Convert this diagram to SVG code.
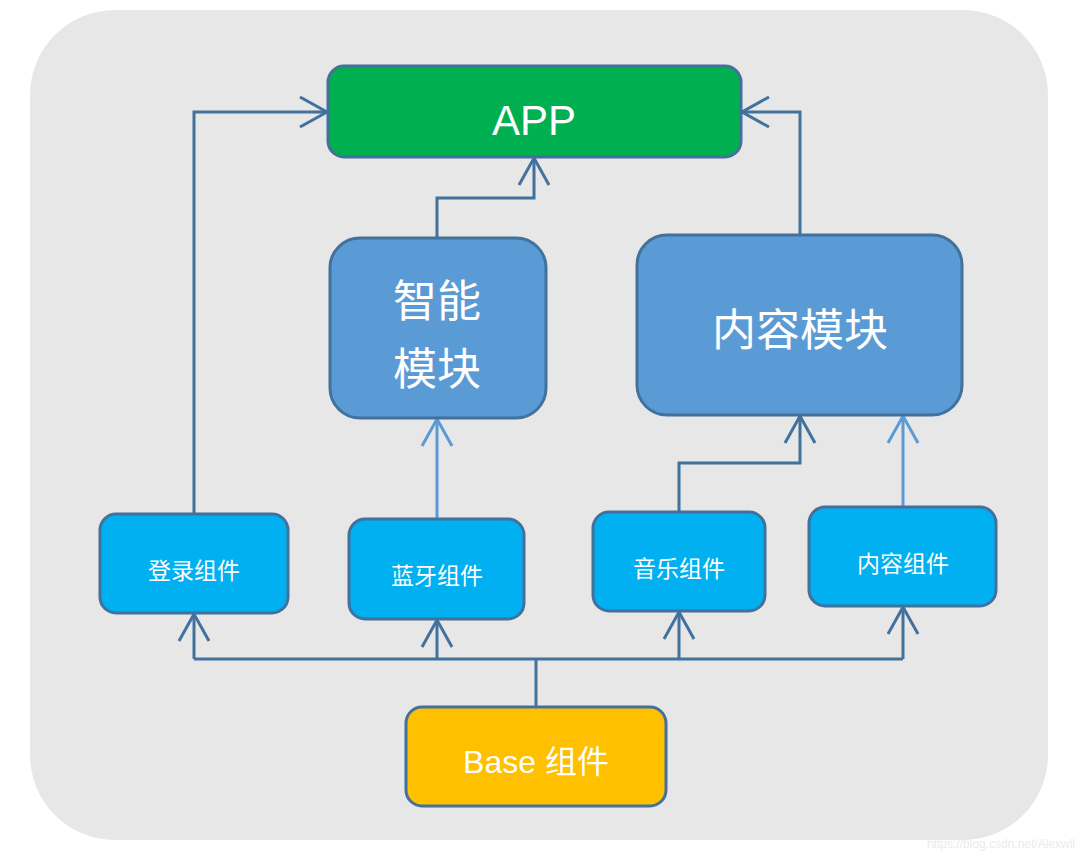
<svg xmlns="http://www.w3.org/2000/svg" width="1080" height="860" viewBox="0 0 1080 860">
<style>
.box{stroke:#41719c;stroke-width:3}
.cn{fill:#ffffff;font-family:"Noto Sans CJK SC","Liberation Sans",sans-serif;text-anchor:middle;dominant-baseline:central}
.lat{fill:#ffffff;font-family:"Liberation Sans","Noto Sans CJK SC",sans-serif;text-anchor:middle;dominant-baseline:central}
.ln{fill:none;stroke:#41719c;stroke-width:3}
.lt{fill:none;stroke:#5b9bd5;stroke-width:3}
</style>
<defs>
<marker id="ad" markerUnits="userSpaceOnUse" viewBox="-30 -18 34 36" refX="0" refY="0" markerWidth="34" markerHeight="36" orient="auto" overflow="visible">
<path d="M-27,-15 L0,0 L-27,15" fill="none" stroke="#41719c" stroke-width="3"/>
</marker>
<marker id="al" markerUnits="userSpaceOnUse" viewBox="-30 -18 34 36" refX="0" refY="0" markerWidth="34" markerHeight="36" orient="auto" overflow="visible">
<path d="M-27,-15 L0,0 L-27,15" fill="none" stroke="#5b9bd5" stroke-width="3"/>
</marker>
</defs>
<rect width="1080" height="860" fill="#ffffff"/>
<rect x="30" y="10" width="1018" height="830" rx="85" fill="#e7e7e7"/>
<g id="connectors">
<path class="ln" d="M194,514 V112 H327" marker-end="url(#ad)"/>
<path class="ln" d="M437,238 V198 H534 V158" marker-end="url(#ad)"/>
<path class="ln" d="M800,235 V112 H742" marker-end="url(#ad)"/>
<path class="lt" d="M437,519 V419" marker-end="url(#al)"/>
<path class="ln" d="M679,512 V463 H800 V416" marker-end="url(#ad)"/>
<path class="lt" d="M903,507 V416" marker-end="url(#al)"/>
<path class="ln" d="M536,707 V659"/>
<path class="ln" d="M194,659 H903"/>
<path class="ln" d="M194,659 V614" marker-end="url(#ad)"/>
<path class="ln" d="M437,659 V620" marker-end="url(#ad)"/>
<path class="ln" d="M679,659 V612" marker-end="url(#ad)"/>
<path class="ln" d="M903,659 V607" marker-end="url(#ad)"/>
</g>
<g id="app">
<rect class="box" x="328" y="66" width="413" height="91" rx="16" fill="#00b050"/>
<text class="lat" x="534" y="120" font-size="42">APP</text>
</g>
<g id="zhineng">
<rect class="box" x="330" y="238" width="216" height="180" rx="30" fill="#5b9bd5"/>
<text class="cn" x="437" y="298" font-size="44">智能</text>
<text class="cn" x="437" y="366" font-size="44">模块</text>
</g>
<g id="neirongmokuai">
<rect class="box" x="637" y="235" width="325" height="180" rx="30" fill="#5b9bd5"/>
<text class="cn" x="800" y="327" font-size="44">内容模块</text>
</g>
<g id="denglu">
<rect class="box" x="100" y="514" width="188" height="99" rx="16" fill="#00b0f0"/>
<text class="cn" x="194" y="569" font-size="23">登录组件</text>
</g>
<g id="lanya">
<rect class="box" x="349" y="519" width="175" height="100" rx="16" fill="#00b0f0"/>
<text class="cn" x="437" y="574" font-size="23">蓝牙组件</text>
</g>
<g id="yinyue">
<rect class="box" x="593" y="512" width="172" height="99" rx="16" fill="#00b0f0"/>
<text class="cn" x="679" y="567" font-size="23">音乐组件</text>
</g>
<g id="neirongzujian">
<rect class="box" x="809" y="507" width="187" height="99" rx="16" fill="#00b0f0"/>
<text class="cn" x="903" y="562" font-size="23">内容组件</text>
</g>
<g id="base">
<rect class="box" x="406" y="707" width="260" height="99" rx="16" fill="#ffc000"/>
<text class="lat" x="536" y="762" font-size="32">Base 组件</text>
</g>
<text x="1075" y="848" font-family="Liberation Sans, sans-serif" font-size="12" fill="#ebebeb" text-anchor="end">https://blog.csdn.net/Alexwll</text>
</svg>
